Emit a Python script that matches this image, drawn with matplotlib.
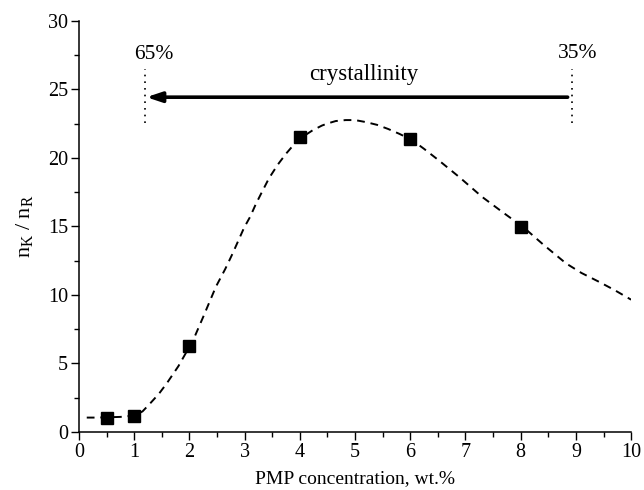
import matplotlib
matplotlib.use("Agg")
import matplotlib.pyplot as plt
from matplotlib.ticker import MultipleLocator

plt.rcParams['font.family'] = ['Liberation Serif', 'DejaVu Serif']
plt.rcParams['mathtext.fontset'] = 'custom'
plt.rcParams['mathtext.rm'] = 'Liberation Serif'
plt.rcParams['mathtext.it'] = 'Liberation Serif:italic'

# measured points
conc = [0.5, 1, 2, 4, 6, 8]
ratio = [1.05, 1.15, 6.3, 21.5, 21.4, 14.95]

# fitted (dashed) curve
curve_x = [0.14, 0.3, 0.5, 0.75, 1.0, 1.15, 1.29, 1.45, 1.59, 1.8, 2.01, 2.1,
           2.25, 2.48, 2.65, 2.78, 2.99, 3.1, 3.2, 3.3, 3.44, 3.6, 3.75, 3.9,
           4.02, 4.23, 4.4, 4.5, 4.65, 4.83, 5.0, 5.2, 5.4, 5.6, 5.8, 6.03,
           6.25, 6.52, 6.9, 7.3, 7.7, 8.06, 8.4, 8.82, 9.1, 9.42, 9.7, 10.0]
curve_y = [1.05, 1.05, 1.07, 1.1, 1.2, 1.5, 2.09, 2.8, 3.55, 4.8, 6.29, 7.0,
           8.4, 10.6, 11.9, 13.0, 14.9, 15.7, 16.6, 17.4, 18.5, 19.5, 20.3, 21.0,
           21.45, 22.0, 22.35, 22.5, 22.68, 22.75, 22.75, 22.6, 22.4, 22.1, 21.75, 21.3,
           20.65, 19.8, 18.55, 17.15, 15.95, 14.9, 13.7, 12.3, 11.6, 10.95, 10.35, 9.65]

xticks = list(range(0, 11))
yticks = [0, 5, 10, 15, 20, 25, 30]

fig = plt.figure(figsize=(6.44, 4.9), dpi=100)
ax = fig.add_axes([0.1227, 0.1184, 0.8573, 0.8394])

ax.plot(curve_x, curve_y, color='black', lw=1.4, ls=(0, (4, 3)))
ax.plot(conc, ratio, ls='none', marker='s', ms=8, color='black')

# crystallinity annotation
ax.plot([1.2, 1.2], [22.55, 26.5], color='black', lw=1.2, ls=(0, (1, 3)))
ax.plot([8.93, 8.93], [22.55, 26.5], color='black', lw=1.2, ls=(0, (1, 3)))
ax.annotate('', xy=(1.22, 24.42), xytext=(8.85, 24.42),
            arrowprops=dict(arrowstyle='-|>,head_length=0.9,head_width=0.3',
                            color='black', lw=2.6, shrinkA=0, shrinkB=0))
ax.text(1.35, 27.55, '65%', ha='center', va='center', fontsize=15.5)
ax.text(9.03, 27.6, '35%', ha='center', va='center', fontsize=15.5)
ax.text(5.15, 26.1, 'crystallinity', ha='center', va='center', fontsize=16.5)

ax.set_xlim(0, 10)
ax.set_ylim(0, 30)
ax.set_xticks(xticks)
ax.set_yticks(yticks)
ax.xaxis.set_minor_locator(MultipleLocator(0.5))
ax.yaxis.set_minor_locator(MultipleLocator(2.5))
ax.tick_params(which='major', direction='out', length=6, width=1, labelsize=14.5, pad=2)
ax.tick_params(which='minor', direction='out', length=3.5, width=1)
for s in ['top', 'right']:
    ax.spines[s].set_visible(False)
for s in ['left', 'bottom']:
    ax.spines[s].set_linewidth(1.1)

ax.set_xlabel('PMP concentration, wt.%', fontsize=14, labelpad=6)
ax.set_ylabel(r'$\mathregular{n_K\ /\ n_R}$', fontsize=16, labelpad=9)

fig.savefig('out.png', dpi=100)
